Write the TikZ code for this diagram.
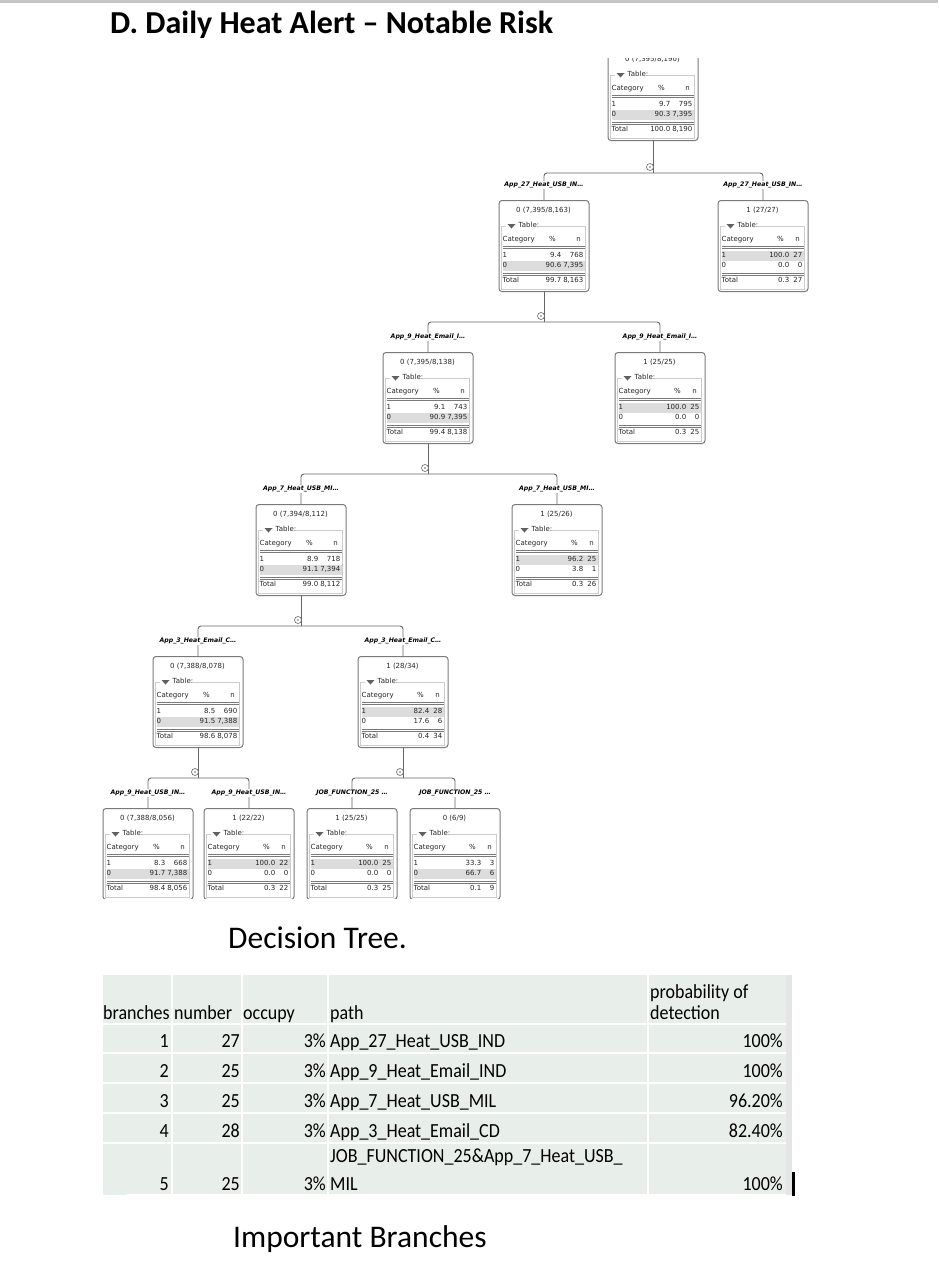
\documentclass[tikz,border=0pt]{standalone}
\usepackage{fontspec}
\setmainfont{Carlito}
\newfontfamily\treefont{DejaVu Sans}
\newfontfamily\tabfont[FakeStretch=0.9]{Carlito}
\usetikzlibrary{positioning}

\definecolor{boxgray}{HTML}{7A7A7A}
\definecolor{linegray}{HTML}{666666}
\definecolor{framegray}{HTML}{CCCCCC}
\definecolor{rowgray}{HTML}{DCDCDC}
\definecolor{trigray}{HTML}{606060}
\definecolor{tablebg}{HTML}{E8EFEA}

% one tree box: name, centre x, top y, header, right edge of % column
\newcommand{\dtbox}[5]{%
  \node[dtbox] (#1) at (#2,#3) {};
  \draw[framegray,line width=0.6pt] ([shift={(3,26)}]#1.north west) rectangle ([shift={(87,89)}]#1.north west);
  \fill[white] ([shift={(7,22)}]#1.north west) rectangle ([shift={(40,30)}]#1.north west);
  \fill[trigray] ([shift={(9,24)}]#1.north west) -- ++(8,0) -- ++(-4,4.5) -- cycle;
  \node[dttext,anchor=west] (#1-tab) at ([shift={(20,26)}]#1.north west) {Table:};
  \node[dttext] (#1-hd) at ([shift={(45,11)}]#1.north west) {#4};
  \xdef\pctx{#5}%
  \node[dttext,anchor=west] (#1-cat) at ([shift={(4,40)}]#1.north west) {Category};
  \node[dttext] (#1-pc) at ([shift={(#5-9,40)}]#1.north west) {\%};
  \node[dttext] (#1-nn) at ([shift={(80,40)}]#1.north west) {n};
  \draw[boxgray,line width=0.5pt] ([shift={(4,46.5)}]#1.north west) -- ++(82,0) ([shift={(4,48)}]#1.north west) -- ++(82,0);
  \draw[boxgray,line width=0.5pt] ([shift={(4,73.5)}]#1.north west) -- ++(82,0) ([shift={(4,75)}]#1.north west) -- ++(82,0);
}
% one row of a tree box: name, y, category, %, n, row fill
\newcommand{\dtrow}[6]{%
  \path[fill=#6] ([shift={(4,#2-5)}]#1.north west) rectangle ([shift={(86,#2+5)}]#1.north west);
  \node[dttext,anchor=west] at ([shift={(4,#2)}]#1.north west) {#3};
  \node[dttext,anchor=east] at ([shift={(\pctx,#2)}]#1.north west) {#4};
  \node[dttext,anchor=east] at ([shift={(85,#2)}]#1.north west) {#5};
}

\begin{document}
\begin{tikzpicture}[x=1pt,y=-1pt,
dtbox/.style={draw=boxgray,line width=1pt,rounded corners=3pt,fill=white,minimum width=90pt,minimum height=91pt,anchor=north,inner sep=0},
dttext/.style={font=\treefont\fontsize{7}{8}\selectfont,text=black!85,inner sep=0,text height=5pt,text depth=1.3pt},
dtlabel/.style={font=\treefont\bfseries\itshape\fontsize{6.2}{7}\selectfont,fill=white,inner sep=1pt},
conn/.style={draw=linegray,line width=0.9pt,rounded corners=3pt},
toggle/.style={circle,draw=linegray,line width=0.6pt,fill=white,minimum size=7pt,inner sep=0,path picture={\fill[linegray] (path picture bounding box.center) circle (0.8pt);}},
tabtxt/.style={font=\tabfont\fontsize{20}{22}\selectfont,inner sep=0},
caption/.style={font=\fontsize{31.5}{36}\selectfont,inner sep=0,anchor=base west}]

\useasboundingbox (0,0) rectangle (938,1262);
\fill[gray!45] (0,0) rectangle (938,2.5);
\node[font=\bfseries\fontsize{32}{36}\selectfont,inner sep=0,anchor=base west] (title) at (110,33) {D. Daily Heat Alert – Notable Risk};

\begin{scope}
\clip (0,58) rectangle (938,898);
% the boxes
\dtbox{root}{653}{49}{0 (7,395/8,190)}{63}
\dtrow{root}{55.5}{1}{9.7}{795}{none}
\dtrow{root}{66}{0}{90.3}{7,395}{rowgray}
\dtrow{root}{81}{Total}{100.0}{8,190}{none}
\dtbox{u0}{544}{200}{0 (7,395/8,163)}{63}
\dtrow{u0}{55.5}{1}{9.4}{768}{none}
\dtrow{u0}{66}{0}{90.6}{7,395}{rowgray}
\dtrow{u0}{81}{Total}{99.7}{8,163}{none}
\dtbox{u1}{763}{200}{1 (27/27)}{72}
\dtrow{u1}{55.5}{1}{100.0}{27}{rowgray}
\dtrow{u1}{66}{0}{0.0}{0}{none}
\dtrow{u1}{81}{Total}{0.3}{27}{none}
\dtbox{v0}{428}{352}{0 (7,395/8,138)}{63}
\dtrow{v0}{55.5}{1}{9.1}{743}{none}
\dtrow{v0}{66}{0}{90.9}{7,395}{rowgray}
\dtrow{v0}{81}{Total}{99.4}{8,138}{none}
\dtbox{v1}{660}{352}{1 (25/25)}{72}
\dtrow{v1}{55.5}{1}{100.0}{25}{rowgray}
\dtrow{v1}{66}{0}{0.0}{0}{none}
\dtrow{v1}{81}{Total}{0.3}{25}{none}
\dtbox{w0}{301}{504}{0 (7,394/8,112)}{63}
\dtrow{w0}{55.5}{1}{8.9}{718}{none}
\dtrow{w0}{66}{0}{91.1}{7,394}{rowgray}
\dtrow{w0}{81}{Total}{99.0}{8,112}{none}
\dtbox{w1}{557}{504}{1 (25/26)}{72}
\dtrow{w1}{55.5}{1}{96.2}{25}{rowgray}
\dtrow{w1}{66}{0}{3.8}{1}{none}
\dtrow{w1}{81}{Total}{0.3}{26}{none}
\dtbox{x0}{198}{656}{0 (7,388/8,078)}{63}
\dtrow{x0}{55.5}{1}{8.5}{690}{none}
\dtrow{x0}{66}{0}{91.5}{7,388}{rowgray}
\dtrow{x0}{81}{Total}{98.6}{8,078}{none}
\dtbox{x1}{403}{656}{1 (28/34)}{72}
\dtrow{x1}{55.5}{1}{82.4}{28}{rowgray}
\dtrow{x1}{66}{0}{17.6}{6}{none}
\dtrow{x1}{81}{Total}{0.4}{34}{none}
\dtbox{y0}{148}{808}{0 (7,388/8,056)}{63}
\dtrow{y0}{55.5}{1}{8.3}{668}{none}
\dtrow{y0}{66}{0}{91.7}{7,388}{rowgray}
\dtrow{y0}{81}{Total}{98.4}{8,056}{none}
\dtbox{y1}{249}{808}{1 (22/22)}{72}
\dtrow{y1}{55.5}{1}{100.0}{22}{rowgray}
\dtrow{y1}{66}{0}{0.0}{0}{none}
\dtrow{y1}{81}{Total}{0.3}{22}{none}
\dtbox{y2}{352}{808}{1 (25/25)}{72}
\dtrow{y2}{55.5}{1}{100.0}{25}{rowgray}
\dtrow{y2}{66}{0}{0.0}{0}{none}
\dtrow{y2}{81}{Total}{0.3}{25}{none}
\dtbox{y3}{455}{808}{0 (6/9)}{72}
\dtrow{y3}{55.5}{1}{33.3}{3}{none}
\dtrow{y3}{66}{0}{66.7}{6}{rowgray}
\dtrow{y3}{81}{Total}{0.1}{9}{none}

% the splits
\draw[conn] (root.south) -- ++(0,32) coordinate (jroot);
\draw[conn] (u0.north) |- (jroot) -| (u1.north);
\draw[conn] (u0.south) -- ++(0,30) coordinate (ju0);
\draw[conn] (v0.north) |- (ju0) -| (v1.north);
\draw[conn] (v0.south) -- ++(0,30) coordinate (jv0);
\draw[conn] (w0.north) |- (jv0) -| (w1.north);
\draw[conn] (w0.south) -- ++(0,30) coordinate (jw0);
\draw[conn] (x0.north) |- (jw0) -| (x1.north);
\draw[conn] (x0.south) -- ++(0,30) coordinate (jx0);
\draw[conn] (y0.north) |- (jx0) -| (y1.north);
\draw[conn] (x1.south) -- ++(0,30) coordinate (jx1);
\draw[conn] (y2.north) |- (jx1) -| (y3.north);

\node[toggle] (troot) at ([shift={(-3pt,6pt)}]jroot) {};
\node[toggle] (tu0) at ([shift={(-3pt,6pt)}]ju0) {};
\node[toggle] (tv0) at ([shift={(-3pt,6pt)}]jv0) {};
\node[toggle] (tw0) at ([shift={(-3pt,6pt)}]jw0) {};
\node[toggle] (tx0) at ([shift={(-3pt,6pt)}]jx0) {};
\node[toggle] (tx1) at ([shift={(-3pt,6pt)}]jx1) {};

% split labels
\node[dtlabel] (lu0) at ([yshift=15pt]u0.north) {App\_27\_Heat\_USB\_IN…};
\node[dtlabel] (lu1) at ([yshift=15pt]u1.north) {App\_27\_Heat\_USB\_IN…};
\node[dtlabel] (lv0) at ([yshift=15pt]v0.north) {App\_9\_Heat\_Email\_I…};
\node[dtlabel] (lv1) at ([yshift=15pt]v1.north) {App\_9\_Heat\_Email\_I…};
\node[dtlabel] (lw0) at ([yshift=15pt]w0.north) {App\_7\_Heat\_USB\_MI…};
\node[dtlabel] (lw1) at ([yshift=15pt]w1.north) {App\_7\_Heat\_USB\_MI…};
\node[dtlabel] (lx0) at ([yshift=15pt]x0.north) {App\_3\_Heat\_Email\_C…};
\node[dtlabel] (lx1) at ([yshift=15pt]x1.north) {App\_3\_Heat\_Email\_C…};
\node[dtlabel] (ly0) at ([yshift=15pt]y0.north) {App\_9\_Heat\_USB\_IN…};
\node[dtlabel] (ly1) at ([yshift=15pt]y1.north) {App\_9\_Heat\_USB\_IN…};
\node[dtlabel] (ly2) at ([yshift=15pt]y2.north) {JOB\_FUNCTION\_25 …};
\node[dtlabel] (ly3) at ([yshift=15pt]y3.north) {JOB\_FUNCTION\_25 …};
\end{scope}

\node[caption] (cap1) at (228,948) {Decision Tree.};

% branches table
\fill[tablebg] (103,975) rectangle (786,1195);
\fill[gray!20] (786,975) rectangle (792,1195);
\draw[white,line width=1.5pt] (172,975) -- (172,1195);
\draw[white,line width=1.5pt] (242,975) -- (242,1195);
\draw[white,line width=1.5pt] (328,975) -- (328,1195);
\draw[white,line width=1.5pt] (648,975) -- (648,1195);
\draw[white,line width=1.5pt] (103,1024) -- (786,1024);
\draw[white,line width=1.5pt] (103,1053) -- (786,1053);
\draw[white,line width=1.5pt] (103,1083) -- (786,1083);
\draw[white,line width=1.5pt] (103,1113) -- (786,1113);
\draw[white,line width=1.5pt] (103,1143) -- (786,1143);
\draw[white,line width=1.5pt] (127,1195) -- (786,1195);
\fill[black] (792,1172) rectangle (794.5,1196);

\node[tabtxt,anchor=base west] (hbr) at (103,1019) {branches};
\node[tabtxt,anchor=base west] (hnum) at (174,1019) {number};
\node[tabtxt,anchor=base west] (hocc) at (243,1019) {occupy};
\node[tabtxt,anchor=base west] (hpath) at (330,1019) {path};
\node[tabtxt,anchor=base west] (hprob) at (650,998) {probability of};
\node[tabtxt,anchor=base west] (hdet) at (650,1019) {detection};

\node[tabtxt,anchor=base east] (b1) at (169,1047) {1};
\node[tabtxt,anchor=base east] (n1) at (240,1047) {27};
\node[tabtxt,anchor=base east] (o1) at (326,1047) {3\%};
\node[tabtxt,anchor=base west] (p1) at (330,1047) {App\_27\_Heat\_USB\_IND};
\node[tabtxt,anchor=base east] (d1) at (783,1047) {100\%};
\node[tabtxt,anchor=base east] (b2) at (169,1077) {2};
\node[tabtxt,anchor=base east] (n2) at (240,1077) {25};
\node[tabtxt,anchor=base east] (o2) at (326,1077) {3\%};
\node[tabtxt,anchor=base west] (p2) at (330,1077) {App\_9\_Heat\_Email\_IND};
\node[tabtxt,anchor=base east] (d2) at (783,1077) {100\%};
\node[tabtxt,anchor=base east] (b3) at (169,1107) {3};
\node[tabtxt,anchor=base east] (n3) at (240,1107) {25};
\node[tabtxt,anchor=base east] (o3) at (326,1107) {3\%};
\node[tabtxt,anchor=base west] (p3) at (330,1107) {App\_7\_Heat\_USB\_MIL};
\node[tabtxt,anchor=base east] (d3) at (783,1107) {96.20\%};
\node[tabtxt,anchor=base east] (b4) at (169,1137) {4};
\node[tabtxt,anchor=base east] (n4) at (240,1137) {28};
\node[tabtxt,anchor=base east] (o4) at (326,1137) {3\%};
\node[tabtxt,anchor=base west] (p4) at (330,1137) {App\_3\_Heat\_Email\_CD};
\node[tabtxt,anchor=base east] (d4) at (783,1137) {82.40\%};
\node[tabtxt,anchor=base east] (b5) at (169,1190) {5};
\node[tabtxt,anchor=base east] (n5) at (240,1190) {25};
\node[tabtxt,anchor=base east] (o5) at (326,1190) {3\%};
\node[tabtxt,anchor=base west] (p5a) at (330,1162) {JOB\_FUNCTION\_25\&App\_7\_Heat\_USB\_};
\node[tabtxt,anchor=base west] (p5b) at (330,1190) {MIL};
\node[tabtxt,anchor=base east] (d5) at (783,1190) {100\%};

\node[caption] (cap2) at (233,1247) {Important Branches};
\end{tikzpicture}
\end{document}
